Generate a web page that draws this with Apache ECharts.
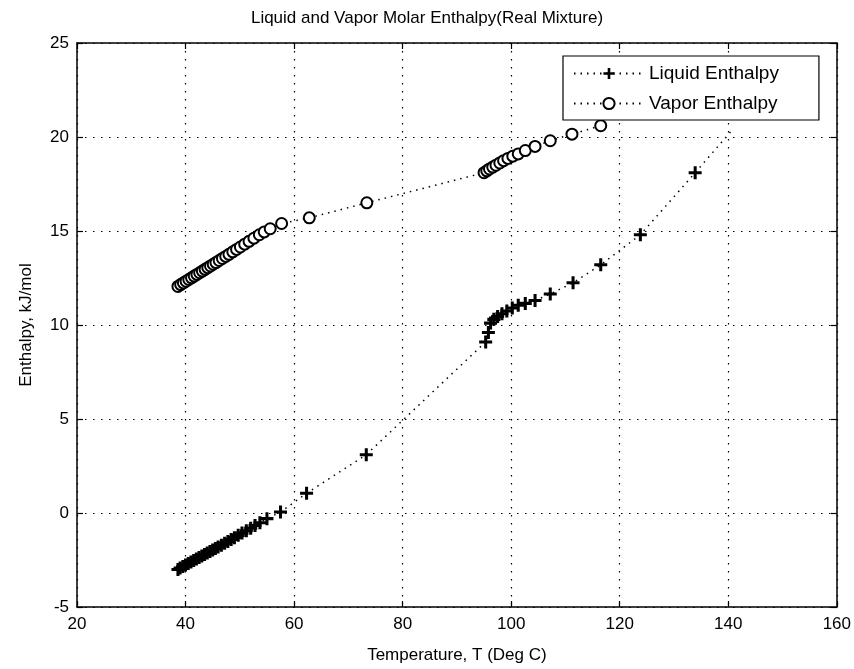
<!DOCTYPE html>
<html>
<head>
<meta charset="utf-8">
<script src="https://cdn.jsdelivr.net/npm/echarts@6/dist/echarts.min.js"></script>
<style>
html,body{margin:0;padding:0;background:#fff;}
#chart{width:854px;height:669px;}
</style>
</head>
<body>
<div id="chart"></div>
<script>
// Liquid enthalpy: temperature (deg C) and enthalpy (kJ/mol)
const liquidT = [38.6,39.0,39.5,40.0,40.5,41.0,41.5,42.0,42.5,43.0,43.5,44.0,44.5,45.0,45.5,46.0,46.6,47.2,47.8,48.4,49.0,49.7,50.4,51.2,52.0,52.8,53.7,55.0,57.5,62.3,73.3,95.3,95.8,96.2,96.8,97.5,98.3,99.2,100.2,101.3,102.6,104.4,107.2,111.4,116.5,123.8,133.9,140.5];
const liquidH = [-3.0,-2.93,-2.85,-2.77,-2.69,-2.61,-2.53,-2.45,-2.37,-2.29,-2.21,-2.13,-2.05,-1.97,-1.89,-1.81,-1.71,-1.61,-1.51,-1.41,-1.31,-1.19,-1.07,-0.94,-0.81,-0.67,-0.52,-0.30,0.05,1.05,3.1,9.1,9.6,10.1,10.3,10.45,10.6,10.75,10.9,11.05,11.15,11.3,11.65,12.25,13.2,14.8,18.1,20.3];
// Vapor enthalpy
const vaporT = [38.6,39.1,39.6,40.1,40.6,41.1,41.6,42.1,42.6,43.1,43.6,44.1,44.6,45.1,45.6,46.2,46.8,47.4,48.0,48.7,49.4,50.1,50.9,51.7,52.6,53.6,54.5,55.6,57.7,62.8,73.4,95.0,95.5,96.0,96.6,97.2,97.9,98.6,99.4,100.3,101.3,102.6,104.4,107.2,111.2,116.5];
const vaporH = [12.05,12.15,12.24,12.33,12.42,12.51,12.6,12.69,12.78,12.87,12.96,13.05,13.14,13.23,13.32,13.43,13.54,13.65,13.76,13.89,14.02,14.15,14.3,14.45,14.62,14.8,14.95,15.12,15.4,15.7,16.5,18.1,18.2,18.3,18.4,18.5,18.62,18.74,18.86,18.98,19.1,19.28,19.5,19.8,20.15,20.6];
const xTicks = {min:20, max:160, step:20};
const yTicks = {min:-5, max:25, step:5};
const titleText = 'Liquid and Vapor Molar Enthalpy(Real Mixture)';
const xName = 'Temperature, T (Deg C)';
const yName = 'Enthalpy, kJ/mol';
const seriesNames = ['Liquid Enthalpy','Vapor Enthalpy'];

const plusPath = 'path://M-1.4,-6H1.4V-1.4H6V1.4H1.4V6H-1.4V1.4H-6V-1.4H-1.4Z';
const FONT = 'Liberation Sans, Arial, sans-serif';
const dotted = [1.5, 6.5];

const chart = echarts.init(document.getElementById('chart'), null, {renderer:'canvas'});
const axisCommon = {
  type:'value',
  axisLine:{show:true, onZero:false, lineStyle:{color:'#000', width:1.5}},
  axisTick:{show:true, inside:true, length:6, lineStyle:{color:'#000', width:1.2}},
};
chart.setOption({
  animation:false,
  backgroundColor:'#fff',
  title:{text:titleText, left:'center', top:5, textStyle:{fontFamily:FONT, fontSize:17, fontWeight:'normal', color:'#000'}},
  grid:{left:77, right:14, top:43, bottom:62, containLabel:false},
  legend:{
    orient:'vertical', left:563, top:56, width:255,
    backgroundColor:'#fff', borderColor:'#000', borderWidth:1.2,
    padding:[8,40,7,10], itemGap:11, itemWidth:70, itemHeight:14,
    textStyle:{fontFamily:FONT, fontSize:19, color:'#000'},
    data:seriesNames
  },
  xAxis:[
    Object.assign({}, axisCommon, {position:'bottom', min:xTicks.min, max:xTicks.max, interval:xTicks.step,
      name:xName, nameLocation:'middle', nameGap:40, nameTextStyle:{fontFamily:FONT, fontSize:17, color:'#000'},
      axisLabel:{fontFamily:FONT, fontSize:17, color:'#000', margin:9},
      splitLine:{show:true, lineStyle:{color:'#000', type:dotted, width:1.2}}}),
    Object.assign({}, axisCommon, {position:'top', min:xTicks.min, max:xTicks.max, interval:xTicks.step,
      axisLabel:{show:false}, splitLine:{show:false}})
  ],
  yAxis:[
    Object.assign({}, axisCommon, {position:'left', min:yTicks.min, max:yTicks.max, interval:yTicks.step,
      name:yName, nameLocation:'middle', nameGap:42, nameTextStyle:{fontFamily:FONT, fontSize:17, color:'#000'},
      axisLabel:{fontFamily:FONT, fontSize:17, color:'#000', margin:8},
      splitLine:{show:true, lineStyle:{color:'#000', type:dotted, width:1.2}}}),
    Object.assign({}, axisCommon, {position:'right', min:yTicks.min, max:yTicks.max, interval:yTicks.step,
      axisLabel:{show:false}, splitLine:{show:false}})
  ],
  series:[
    {
      name:seriesNames[0], type:'line',
      data:liquidT.map((t,i)=>[t, liquidH[i]]),
      symbol:plusPath,
      symbolSize:function(v, p){ return p.dataIndex === liquidT.length-1 ? 0 : 13; },
      showAllSymbol:true,
      itemStyle:{color:'#000'},
      lineStyle:{color:'#000', width:1.5, type:[1.5,5]}
    },
    {
      name:seriesNames[1], type:'line',
      data:vaporT.map((t,i)=>[t, vaporH[i]]),
      symbol:'emptyCircle', symbolSize:11, showAllSymbol:true,
      itemStyle:{color:'#000', borderColor:'#000', borderWidth:2.2},
      lineStyle:{color:'#000', width:1.5, type:[1.5,5]}
    }
  ]
});
</script>
</body>
</html>
